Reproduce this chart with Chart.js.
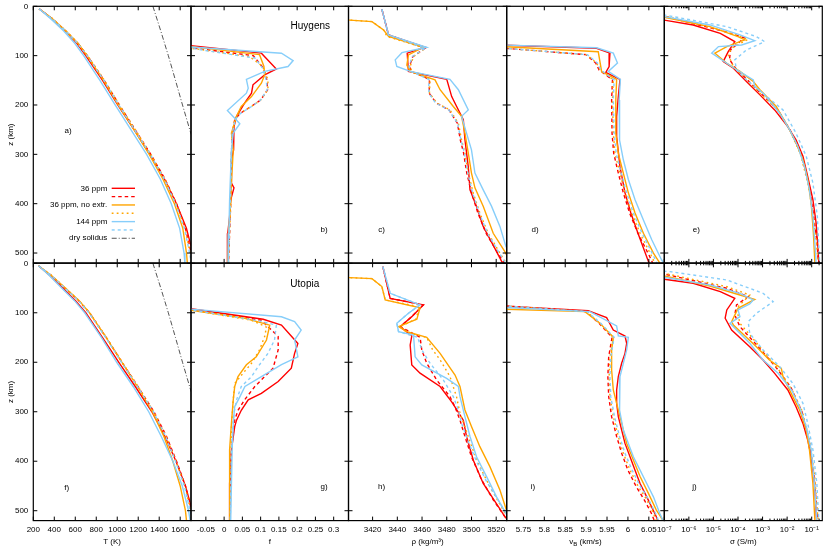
<!DOCTYPE html>
<html>
<head>
<meta charset="utf-8">
<script src="https://cdn.jsdelivr.net/npm/chart.js@4.4.1/dist/chart.umd.min.js"></script>
<style>
html,body{margin:0;padding:0;background:#fff;}
#wrap{position:relative;width:830px;height:554px;overflow:hidden;}
#wrap canvas{position:absolute;left:0;top:0;}
</style>
</head>
<body>
<div id="wrap"></div>
<script>
// ---------------- DATA: [depth z (km), value] ----------------
// Huygens temperature (K)
const hT_36   = [[5,255],[25,375],[50,505],[75,615],[100,700],[150,860],[200,1005],[250,1160],[300,1310],[350,1450],[400,1565],[450,1660],[500,1720],[520,1740]];
const hT_36d  = [[5,255],[25,380],[50,510],[75,625],[100,715],[150,875],[200,1020],[250,1170],[300,1320],[350,1455],[400,1565],[450,1650],[500,1705],[520,1720]];
const hT_36n  = [[5,255],[25,380],[50,510],[75,625],[100,712],[150,870],[200,1010],[250,1160],[300,1305],[350,1435],[400,1545],[450,1625],[500,1660],[520,1668]];
const hT_36nd = [[5,255],[25,382],[50,512],[75,628],[100,718],[150,878],[200,1022],[250,1172],[300,1320],[350,1452],[400,1560],[450,1645],[500,1695],[520,1710]];
const hT_144  = [[5,255],[25,365],[50,490],[75,595],[100,680],[150,835],[200,980],[250,1130],[300,1280],[350,1410],[400,1515],[450,1595],[500,1637],[520,1645]];
const hT_144d = [[5,255],[25,378],[50,508],[75,622],[100,712],[150,872],[200,1015],[250,1165],[300,1315],[350,1448],[400,1555],[450,1640],[500,1690],[520,1705]];
// Utopia temperature (K)
const uT_36   = [[5,250],[25,360],[50,480],[75,600],[100,700],[150,860],[200,1015],[250,1175],[300,1330],[350,1455],[400,1560],[450,1650],[500,1715],[520,1735]];
const uT_36d  = [[5,250],[25,375],[50,500],[75,630],[100,735],[150,895],[200,1045],[250,1200],[300,1350],[350,1470],[400,1565],[450,1650],[500,1710],[520,1730]];
const uT_36n  = [[5,250],[25,375],[50,505],[75,635],[100,735],[150,895],[200,1045],[250,1195],[300,1335],[350,1445],[400,1530],[450,1600],[500,1650],[520,1660]];
const uT_36nd = [[5,250],[25,378],[50,505],[75,635],[100,738],[150,898],[200,1048],[250,1202],[300,1348],[350,1465],[400,1560],[450,1645],[500,1700],[520,1715]];
const uT_144  = [[5,250],[25,355],[50,470],[75,590],[100,690],[150,850],[200,995],[250,1155],[300,1300],[350,1420],[400,1530],[450,1620],[500,1680],[520,1695]];
const uT_144d = [[5,250],[25,375],[50,500],[75,628],[100,730],[150,890],[200,1040],[250,1195],[300,1345],[350,1462],[400,1555],[450,1640],[500,1695],[520,1710]];
// dry solidus (K)
const drySolidus = [[0,1340],[50,1415],[100,1487],[150,1555],[200,1622],[260,1705]];

// Huygens melt fraction f
const hF_36   = [[79,-0.1],[95,0.102],[127,0.143],[139,0.111],[159,0.079],[176,0.075],[196,0.056],[223,0.034],[244,0.027],[271,0.025],[291,0.027],[311,0.020],[358,0.020],[368,0.027],[392,0.018],[426,0.015],[460,0.010],[520,0.009]];
const hF_36d  = [[83,-0.1],[100,0.08],[124,0.106],[149,0.117],[169,0.119],[190,0.10],[203,0.074],[217,0.044],[230,0.029],[260,0.022],[300,0.020],[400,0.018],[520,0.012]];
const hF_36n  = [[81,-0.1],[98,0.097],[122,0.109],[139,0.111],[156,0.102],[183,0.075],[203,0.047],[223,0.034],[257,0.020],[291,0.025],[358,0.020],[400,0.018],[460,0.012],[520,0.010]];
const hF_36nd = [[84,-0.1],[102,0.07],[122,0.106],[149,0.12],[169,0.12],[190,0.10],[203,0.075],[217,0.043],[230,0.029],[260,0.022],[300,0.020],[400,0.018],[520,0.012]];
const hF_144  = [[82,-0.1],[95,0.157],[110,0.189],[122,0.175],[132,0.111],[148,0.061],[166,0.066],[176,0.061],[211,0.009],[227,0.029],[238,0.043],[257,0.025],[291,0.020],[392,0.015],[460,0.013],[520,0.011]];
const hF_144d = [[84,-0.1],[105,0.085],[127,0.107],[149,0.115],[169,0.118],[190,0.10],[203,0.075],[217,0.045],[230,0.030],[260,0.022],[300,0.020],[400,0.017],[520,0.012]];
// Utopia melt fraction f
const uF_36   = [[91,-0.1],[113,0.107],[125,0.157],[162,0.202],[182,0.193],[212,0.184],[239,0.148],[263,0.102],[276,0.066],[297,0.047],[317,0.034],[330,0.029],[377,0.020],[445,0.015],[520,0.015]];
const uF_36d  = [[92,-0.1],[115,0.102],[148,0.148],[175,0.148],[212,0.134],[229,0.111],[249,0.084],[276,0.056],[297,0.038],[317,0.029],[377,0.020],[520,0.016]];
const uF_36n  = [[94,-0.1],[111,0.057],[125,0.125],[155,0.116],[189,0.088],[205,0.061],[229,0.038],[249,0.029],[276,0.025],[323,0.020],[377,0.015],[520,0.015]];
const uF_36nd = [[93,-0.1],[115,0.075],[129,0.116],[148,0.111],[175,0.097],[202,0.075],[222,0.052],[243,0.029],[276,0.025],[330,0.020],[520,0.016]];
const uF_144  = [[92,-0.1],[108,0.157],[118,0.193],[135,0.211],[155,0.193],[189,0.202],[205,0.157],[229,0.102],[249,0.057],[270,0.043],[290,0.029],[323,0.025],[377,0.022],[520,0.018]];
const uF_144d = [[93,-0.1],[116,0.093],[125,0.143],[155,0.138],[182,0.120],[209,0.093],[229,0.075],[249,0.047],[276,0.034],[303,0.027],[377,0.020],[520,0.017]];

// Huygens density (kg/m3)
const hR_36   = [[6,3427.5],[58,3432.9],[71.5,3449],[83,3462.5],[95,3448],[132,3449],[148,3480],[183,3484],[203,3488],[230,3493.4],[270,3494.7],[325,3497.4],[372,3498.8],[405,3504],[446,3509.5],[497,3520.3],[520,3525]];
const hR_36d  = [[6,3427.5],[58,3432.9],[85,3462.5],[102,3452.5],[122,3449.8],[132,3451.2],[148,3466],[176,3465.8],[196,3471.4],[210,3481.8],[237,3488.6],[271,3491],[297,3493.6],[338,3496.2],[379,3500.2],[419,3505.2],[460,3511.8],[500,3521.3],[520,3526.5]];
const hR_36n  = [[27,3390],[28,3401.5],[31,3419.5],[48,3428.9],[61,3432.9],[83,3461.1],[98.5,3449],[119,3447.7],[132,3450.4],[149,3470.5],[169,3474.6],[203,3485.3],[223,3492],[257,3494.7],[297,3497.4],[338,3500],[368,3502.8],[405,3509.5],[460,3517.6],[497,3527],[520,3532]];
const hR_36nd = [[27,3390],[28,3401.5],[31,3419.5],[48,3428.9],[61,3431.6],[85,3462.5],[102,3453.1],[122,3450.4],[132,3451.7],[148,3466.5],[176,3466],[196,3471.9],[210,3482.6],[237,3489.4],[271,3492],[297,3494.7],[338,3497.4],[379,3501.5],[419,3506.8],[460,3513.5],[500,3523],[520,3528]];
const hR_144  = [[6,3427.5],[58,3432.9],[83,3463.8],[94,3443.7],[108.6,3438.3],[122,3439.6],[132,3450.4],[148,3482.6],[169,3489.4],[210,3497.4],[223,3492],[257,3496],[291,3500],[338,3502.8],[372,3509.5],[405,3516.2],[446,3523],[486,3527.8],[520,3535]];
const hR_144d = [[6,3427.5],[58,3432.9],[85,3462.5],[102,3452],[122,3449.5],[132,3451],[148,3465.5],[176,3465.5],[196,3471],[210,3481.6],[237,3488.8],[271,3491.5],[297,3494.3],[338,3497],[379,3501],[419,3506.3],[460,3513],[500,3522.5],[520,3527.5]];
// Utopia density (kg/m3)
const uR_36   = [[6.7,3428.3],[70.8,3434.2],[84,3461.1],[107.8,3451.7],[128,3442.3],[147,3451.7],[165,3450.4],[205.5,3451.7],[222,3458.4],[249,3474.6],[280,3484],[290,3486.6],[317,3493.4],[350,3496],[398,3501.5],[445,3509.5],[512,3527],[520,3529.7]];
const uR_36d  = [[6.7,3428.3],[70.8,3434.2],[84,3461.1],[107.8,3451.7],[128,3442.3],[149.6,3458.4],[175,3459.8],[202,3463.8],[236,3471.9],[269.5,3482.6],[290,3486.6],[316.7,3490.7],[350,3494.7],[391,3500],[437,3508.1],[478,3517.6],[512,3527],[520,3529]];
const uR_36n  = [[28,3390],[29,3401.5],[31,3419.5],[47,3427.5],[74,3430.2],[90,3458.4],[113,3455.8],[128,3441],[138,3447.7],[149.6,3463.8],[182,3474.6],[225.7,3486.7],[249,3490.7],[296.5,3494.7],[330,3500],[370.6,3506.8],[411,3514.9],[458,3523],[495,3527.8],[520,3531]];
const uR_36nd = [[28,3390],[29,3401.5],[31,3419.5],[47,3427.5],[74,3430.2],[88,3458],[113,3455],[128,3442],[140,3448],[149.6,3463.8],[175,3468.6],[195,3474.6],[229,3482.6],[269.5,3487.9],[303,3490.7],[330,3494.7],[370.6,3500.2],[411,3506.8],[451.5,3514.9],[498.7,3525.7],[520,3530]];
const uR_144  = [[6.7,3428.3],[60.6,3434.2],[84,3458.4],[101,3449],[121,3439.6],[138,3441],[145,3453.1],[189,3454.4],[205.5,3459.8],[232.5,3479.9],[249,3489.4],[269.5,3490.7],[310,3494.7],[350,3498.8],[391,3504.1],[431,3512.2],[472,3520.3],[505,3527.8],[520,3531]];
const uR_144d = [[6.7,3428.3],[60.6,3434.2],[84,3458.4],[101,3449],[121,3439.6],[138,3441],[149.6,3456.5],[175,3459.8],[202,3466.5],[236,3477.3],[269.5,3485.3],[296.5,3489.4],[323.5,3492],[360,3497.4],[400,3504],[441,3512.2],[484,3522.9],[505,3527.8],[520,3530.5]];

// Huygens bulk sound velocity vB (km/s)
const hV_36   = [[76,5.6],[85,5.925],[95,5.957],[122,5.955],[134,5.947],[148,5.981],[183,5.977],[223,5.973],[264,5.973],[325,5.981],[378,5.993],[419,6.007],[460,6.024],[517,6.049],[520,6.051]];
const hV_36d  = [[78,5.6],[98,5.9],[115,5.923],[129,5.931],[149,5.963],[190,5.961],[257,5.962],[298,5.966],[338,5.977],[378,5.989],[419,6.004],[460,6.024],[507,6.052],[520,6.059]];
const hV_36n  = [[77,5.6],[92,5.929],[132,5.937],[148,5.973],[190,5.971],[257,5.971],[298,5.977],[338,5.989],[378,6.001],[419,6.017],[460,6.037],[500,6.061],[520,6.076]];
const hV_36nd = [[78,5.6],[98,5.901],[115,5.925],[129,5.933],[149,5.965],[190,5.963],[257,5.965],[298,5.969],[338,5.981],[378,5.993],[419,6.009],[460,6.029],[507,6.057],[520,6.064]];
const hV_144  = [[76,5.6],[84,5.925],[95,5.965],[115,5.975],[132,5.953],[148,5.982],[190,5.979],[223,5.979],[271,5.981],[311,5.989],[351,6.001],[392,6.017],[433,6.037],[473,6.057],[513,6.080],[520,6.085]];
const hV_144d = [[78,5.6],[98,5.903],[115,5.927],[129,5.935],[149,5.967],[190,5.965],[257,5.967],[298,5.972],[338,5.984],[378,5.997],[419,6.013],[460,6.034],[507,6.062],[520,6.069]];
// Utopia vB (km/s)
const uV_36   = [[82,5.6],[95.7,5.905],[109.8,5.949],[134.8,5.965],[147,5.993],[161.7,5.997],[182,5.993],[202,5.985],[229,5.977],[256,5.973],[283,5.973],[310,5.977],[337,5.985],[364,5.993],[391,6.005],[418,6.017],[445,6.029],[472,6.045],[505,6.064],[520,6.072]];
const uV_36d  = [[80,5.6],[97.7,5.9],[121.3,5.931],[149.6,5.962],[188.7,5.954],[229,5.952],[269.5,5.954],[310,5.961],[350,5.973],[384,5.985],[418,6.0],[451.5,6.02],[478,6.039],[505,6.056],[520,6.063]];
const uV_36n  = [[90,5.6],[97.7,5.897],[121.3,5.933],[149.6,5.965],[175,5.961],[215.6,5.961],[256,5.965],[283,5.973],[323.5,5.985],[364,5.997],[397.6,6.013],[431,6.029],[465,6.049],[498.7,6.068],[512,6.078],[520,6.084]];
const uV_36nd = [[80,5.6],[97.7,5.901],[121.3,5.933],[149.6,5.965],[188.7,5.957],[229,5.955],[269.5,5.957],[310,5.965],[350,5.977],[384,5.989],[418,6.005],[451.5,6.025],[478,6.045],[505,6.061],[520,6.068]];
const uV_144  = [[85,5.6],[97.7,5.909],[126.7,5.973],[146.9,5.977],[149.6,6.001],[175,5.997],[202,5.989],[229,5.981],[256,5.979],[296.5,5.981],[337,5.989],[364,6.001],[391,6.013],[418,6.029],[445,6.045],[472,6.061],[505,6.076],[520,6.084]];
const uV_144d = [[80,5.6],[97.7,5.903],[121.3,5.935],[149.6,5.967],[188.7,5.959],[229,5.957],[269.5,5.959],[310,5.968],[350,5.98],[384,5.993],[418,6.01],[451.5,6.03],[478,6.05],[505,6.066],[520,6.073]];

// Huygens conductivity sigma (S/m)
const hS_36   = [[20,3.2e-9],[28,1e-7],[38,1.5e-6],[55,1.9e-5],[71.5,7.4e-5],[91.8,4e-5],[112,2.5e-5],[125.5,6.5e-5],[156,2.6e-4],[179.5,7.8e-4],[210,3.1e-3],[240,9.3e-3],[270.6,2.3e-2],[304,4.4e-2],[345,6.9e-2],[392,0.112],[439,0.151],[486.5,0.178],[520,0.195]];
const hS_36d  = [[14,3.2e-9],[20,1e-7],[51,2.8e-5],[64,1.8e-4],[88,5e-5],[108,4.5e-5],[125,7.9e-5],[150,2.5e-4],[176,8.3e-4],[210,4.2e-3],[250,1.3e-2],[300,3.8e-2],[360,7.6e-2],[420,0.117],[480,0.166],[520,0.186]];
const hS_36n  = [[16,3.2e-9],[22.3,1e-7],[41.2,7.2e-6],[61.4,1e-4],[68,1.9e-4],[71.5,1.2e-4],[81.6,3.5e-5],[95,1.15e-5],[115.4,3.5e-5],[132,1.2e-4],[152.5,4.2e-4],[169,7.8e-4],[203,3.6e-3],[243.6,1.07e-2],[277,2.3e-2],[311,4.4e-2],[351.5,6.9e-2],[398.8,9.5e-2],[459.5,0.117],[520,0.135]];
const hS_36nd = [[14,3.2e-9],[19.6,1e-7],[51.3,3.5e-5],[66.8,2.6e-4],[85,5.5e-5],[98.5,4e-5],[122,6.5e-5],[149,2.2e-4],[176,7.8e-4],[210,4e-3],[250,1.26e-2],[300,3.5e-2],[360,7.1e-2],[420,0.112],[480,0.158],[520,0.178]];
const hS_144  = [[14,3.2e-9],[21,1e-7],[37.8,7.2e-6],[58,1.2e-4],[69.5,4.8e-4],[78.3,1.4e-4],[81.6,1.6e-5],[95,8.5e-6],[122,5.5e-5],[149,4.2e-4],[162.6,4.8e-4],[176,1.05e-3],[216.6,5e-3],[250,1.26e-2],[284,2.75e-2],[324.6,5.1e-2],[372,8.1e-2],[426,0.112],[493,0.141],[520,0.151]];
const hS_144d = [[12,3.2e-9],[17.5,1e-7],[41.2,3.5e-5],[61.4,5.6e-4],[71.5,1.2e-3],[88.4,2.2e-4],[108.6,7.4e-5],[129,8.7e-5],[149,2.2e-4],[210,6.8e-3],[257,2.3e-2],[304,6e-2],[358,0.112],[426,0.17],[520,0.21]];
// Utopia sigma (S/m)
const uS_36   = [[28,3.2e-9],[32.3,1e-7],[40.4,1.5e-6],[57.3,1.9e-5],[70.8,7.4e-5],[94.3,3.5e-5],[111,3.0e-5],[134.8,5.5e-5],[168.5,3.0e-4],[195.4,1.05e-3],[222.4,3.1e-3],[256,1.07e-2],[290,2.3e-2],[323.5,4.4e-2],[357,6.9e-2],[391,9.5e-2],[444.7,0.129],[520,0.158]];
const uS_36d  = [[16,3.2e-9],[21.6,1e-7],[50.5,3.5e-5],[67.4,2.6e-4],[84.2,8.7e-5],[104.4,7.4e-5],[128,1.2e-4],[170,7.1e-4],[210,3.5e-3],[250,1.4e-2],[300,4e-2],[360,7.9e-2],[430,0.126],[520,0.174]];
const uS_36n  = [[20,3.2e-9],[25.6,1e-7],[45.8,7.2e-6],[64,1.2e-4],[72.8,4.8e-4],[91,1e-4],[118,5.5e-5],[124.7,6.5e-5],[168.5,5.6e-4],[195.4,1.9e-3],[212.3,5.8e-3],[229,6.8e-3],[269.5,1.7e-2],[296.5,3.2e-2],[337,6e-2],[377,8.1e-2],[444.7,0.112],[520,0.135]];
const uS_36nd = [[15,3.2e-9],[20.2,1e-7],[47.2,3.5e-5],[64,3.0e-4],[74,1.9e-4],[91,8.7e-5],[121.3,1.2e-4],[175.2,1e-3],[215,4.5e-3],[256,1.6e-2],[300,4.2e-2],[360,8.3e-2],[430,0.132],[520,0.182]];
const uS_144  = [[22,3.2e-9],[28.3,1e-7],[43.8,7.2e-6],[60.6,1.2e-4],[74.1,4.2e-4],[82.2,3.0e-4],[94.3,1e-4],[107.8,1.2e-4],[121.3,4.7e-5],[161.7,3.0e-4],[195.4,1.05e-3],[222.4,4.3e-3],[256,1.5e-2],[290,3.2e-2],[330,6e-2],[377,9.5e-2],[444.7,0.129],[520,0.162]];
const uS_144d = [[12,3.2e-9],[16.8,1.7e-7],[33.7,3.5e-5],[60.6,1.05e-3],[77.5,2.7e-3],[101,5.6e-4],[118,2.6e-4],[141.5,3.0e-4],[175.2,1.05e-3],[209,5e-3],[242.6,1.7e-2],[283,4.4e-2],[323.5,6.9e-2],[377,0.112],[444.7,0.162],[520,0.195]];

// ---------------- TICKS & LABELS ----------------
const Z_TICKS = [0,100,200,300,400,500];
const Z_TICK_LABELS = ['0','100','200','300','400','500'];
const T_TICKS = [200,400,600,800,1000,1200,1400,1600];
const T_TICK_LABELS = ['200','400','600','800','1000','1200','1400','1600'];
const F_TICKS = [-0.05,0,0.05,0.1,0.15,0.2,0.25,0.3];
const F_TICK_LABELS = ['-0.05','0','0.05','0.1','0.15','0.2','0.25','0.3'];
const RHO_TICKS = [3420,3440,3460,3480,3500,3520];
const RHO_TICK_LABELS = ['3420','3440','3460','3480','3500','3520'];
const VB_TICKS = [5.75,5.8,5.85,5.9,5.95,6.0,6.05];
const VB_TICK_LABELS = ['5.75','5.8','5.85','5.9','5.95','6','6.05'];
const SIGMA_TICKS = [1e-7,1e-6,1e-5,1e-4,1e-3,1e-2,1e-1];
const SIGMA_TICK_LABELS = ['10\u207B\u2077','10\u207B\u2076','10\u207B\u2075','10\u207B\u2074','10\u207B\u00B3','10\u207B\u00B2','10\u207B\u00B9'];
const LEGEND_LABELS = ['36 ppm','','36 ppm, no extr.','','144 ppm','','dry solidus'];
const REGION_NAMES = ['Huygens','Utopia'];
const PANEL_LETTERS = [['a)','b)','c)','d)','e)'],['f)','g)','h)','i)','j)']];

// ---------------- LAYOUT / STYLE ----------------
const FONT = '"Liberation Sans", Arial, Helvetica, sans-serif';
Chart.defaults.font.family = FONT;
Chart.defaults.font.size = 8;
Chart.defaults.color = '#000';

const COL_EDGES = [33.3, 191, 348.5, 506.7, 664.3, 822.3];
const ROW_EDGES = [[6.3, 262.9], [263.3, 520.6]];
const X_AXIS_H = 30;
const TICK_LEN = 4;
const LW = 1.4;
const STYLES = [
  {color:'#ff0000', dash:[]},
  {color:'#ff0000', dash:[3.5,3]},
  {color:'#ffa500', dash:[]},
  {color:'#ffa500', dash:[1.8,3.2]},
  {color:'#87cefa', dash:[]},
  {color:'#87cefa', dash:[3,3]},
  {color:'#555555', dash:[5,2,1,2]}
];

const COLUMNS = [
  {type:'linear', min:200, max:1703, ticks:T_TICKS, labels:T_TICK_LABELS, title:'T (K)'},
  {type:'linear', min:-0.0907, max:0.3406, ticks:F_TICKS, labels:F_TICK_LABELS, title:'f'},
  {type:'linear', min:3400.5, max:3528.5, ticks:RHO_TICKS, labels:RHO_TICK_LABELS, title:'\u03C1 (kg/m\u00B3)'},
  {type:'linear', min:5.71, max:6.087, ticks:VB_TICKS, labels:VB_TICK_LABELS, title:null, vb:true},
  {type:'logarithmic', min:1e-7, max:0.27, ticks:SIGMA_TICKS, labels:SIGMA_TICK_LABELS, title:'\u03C3 (S/m)', minor:true}
];

const PANEL_DATA = [
  [[hT_36,hT_36d,hT_36n,hT_36nd,hT_144,hT_144d],[hF_36,hF_36d,hF_36n,hF_36nd,hF_144,hF_144d],[hR_36,hR_36d,hR_36n,hR_36nd,hR_144,hR_144d],[hV_36,hV_36d,hV_36n,hV_36nd,hV_144,hV_144d],[hS_36,hS_36d,hS_36n,hS_36nd,hS_144,hS_144d]],
  [[uT_36,uT_36d,uT_36n,uT_36nd,uT_144,uT_144d],[uF_36,uF_36d,uF_36n,uF_36nd,uF_144,uF_144d],[uR_36,uR_36d,uR_36n,uR_36nd,uR_144,uR_144d],[uV_36,uV_36d,uV_36n,uV_36nd,uV_144,uV_144d],[uS_36,uS_36d,uS_36n,uS_36nd,uS_144,uS_144d]]
];
// letter label anchor (data coordinates)
const LETTER_POS = [
  [[531,253],[0.274,453],[3427.3,453],[5.778,453],[2.0e-6,453]],
  [[519,452.7],[0.274,452],[3427.3,452],[5.773,452],[1.7e-6,452]]
];
const REGION_POS = [[0.236,40],[0.221,41.8]];

function pts(pairs){ return pairs.map(p => ({x:p[1], y:p[0]})); }

const decor = {
  id:'decor',
  afterDraw(chart){
    const o = chart.options.plugins.decor;
    const ctx = chart.ctx, a = chart.chartArea, xs = chart.scales.x, ys = chart.scales.y;
    ctx.save();
    ctx.strokeStyle = '#000';
    ctx.lineWidth = 1;
    ctx.setLineDash([]);
    ctx.beginPath();
    Z_TICKS.forEach(v => {
      const py = ys.getPixelForValue(v);
      ctx.moveTo(a.left, py); ctx.lineTo(a.left + TICK_LEN, py);
      ctx.moveTo(a.right, py); ctx.lineTo(a.right - TICK_LEN, py);
    });
    o.xTicks.forEach(v => {
      const px = xs.getPixelForValue(v);
      ctx.moveTo(px, a.top); ctx.lineTo(px, a.top + TICK_LEN);
      ctx.moveTo(px, a.bottom); ctx.lineTo(px, a.bottom - TICK_LEN);
    });
    if (o.minor) {
      for (let d = 1e-7; d < 1; d *= 10) {
        for (let m = 2; m <= 9; m++) {
          const v = d * m;
          if (v > xs.max) break;
          const px = xs.getPixelForValue(v);
          ctx.moveTo(px, a.top); ctx.lineTo(px, a.top + 2);
          ctx.moveTo(px, a.bottom); ctx.lineTo(px, a.bottom - 2);
        }
      }
    }
    ctx.stroke();
    ctx.lineWidth = 1.2;
    ctx.strokeRect(a.left, a.top, a.right - a.left, a.bottom - a.top);

    ctx.fillStyle = '#000';
    ctx.textAlign = 'center';
    ctx.textBaseline = 'middle';
    ctx.font = '8px ' + FONT;
    ctx.fillText(o.letter, xs.getPixelForValue(o.letterPos[0]), ys.getPixelForValue(o.letterPos[1]));
    if (o.region) {
      ctx.font = '10px ' + FONT;
      ctx.fillText(o.region, xs.getPixelForValue(o.regionPos[0]), ys.getPixelForValue(o.regionPos[1]));
    }
    if (o.vbTitle) {
      ctx.font = '8px ' + FONT;
      const w1 = ctx.measureText('v').width;
      ctx.font = '6px ' + FONT;
      const w2 = ctx.measureText('B').width;
      ctx.font = '8px ' + FONT;
      const w3 = ctx.measureText(' (km/s)').width;
      let x = (a.left + a.right) / 2 - (w1 + w2 + w3) / 2;
      const y = a.bottom + 21.5;
      ctx.textAlign = 'left';
      ctx.fillText('v', x, y); x += w1;
      ctx.font = '6px ' + FONT;
      ctx.fillText('B', x, y + 2.2); x += w2;
      ctx.font = '8px ' + FONT;
      ctx.fillText(' (km/s)', x, y);
    }
    if (o.legend) {
      ctx.font = '8px ' + FONT;
      ctx.textAlign = 'right';
      LEGEND_LABELS.forEach((lab, i) => {
        const y = a.top + 182 + i * 8.33;
        if (lab) ctx.fillText(lab, a.left + 74, y);
        const st = STYLES[i];
        ctx.strokeStyle = st.color;
        ctx.lineWidth = i === 6 ? 1 : LW;
        ctx.setLineDash(st.dash);
        ctx.beginPath();
        ctx.moveTo(a.left + 78.4, y);
        ctx.lineTo(a.left + 101.7, y);
        ctx.stroke();
      });
      ctx.setLineDash([]);
    }
    ctx.restore();
  }
};

const wrap = document.getElementById('wrap');
for (let r = 0; r < 2; r++) {
  for (let c = 0; c < 5; c++) {
    const cv = document.createElement('canvas');
    cv.width = 830; cv.height = 554;
    cv.style.width = '830px'; cv.style.height = '554px';
    wrap.appendChild(cv);
    const col = COLUMNS[c];
    const L = COL_EDGES[c], R = COL_EDGES[c + 1];
    const T = ROW_EDGES[r][0], B = ROW_EDGES[r][1];
    const showY = c === 0, showX = r === 1;
    const yW = showY ? L : 0;
    const xH = showX ? X_AXIS_H : 0;
    const datasets = PANEL_DATA[r][c].map((s, i) => ({
      data: pts(s), borderColor: STYLES[i].color, backgroundColor: STYLES[i].color,
      borderDash: STYLES[i].dash, borderWidth: LW, pointRadius: 0, showLine: true,
      fill: false, tension: 0, order: -i
    }));
    if (c === 0) {
      datasets.push({data: pts(drySolidus), borderColor: STYLES[6].color, borderDash: STYLES[6].dash,
        borderWidth: 1, pointRadius: 0, showLine: true, fill: false, order: 5});
    }
    new Chart(cv, {
      type: 'scatter',
      data: {datasets},
      options: {
        responsive: false, animation: false, events: [],
        layout: {autoPadding: false, padding: {left: L - yW, top: T, right: 830 - R, bottom: 554 - B - xH}},
        plugins: {
          legend: {display: false}, tooltip: {enabled: false},
          decor: {
            xTicks: col.ticks, minor: !!col.minor,
            letter: PANEL_LETTERS[r][c], letterPos: LETTER_POS[r][c],
            region: c === 1 ? REGION_NAMES[r] : null, regionPos: REGION_POS[r],
            vbTitle: !!col.vb && showX, legend: r === 0 && c === 0
          }
        },
        scales: {
          x: {
            type: col.type, min: col.min, max: col.max, display: showX, position: 'bottom',
            grid: {display: false, drawTicks: false}, border: {display: false},
            ticks: {padding: 4, autoSkip: false, maxRotation: 0, minRotation: 0,
              callback: (v, i) => col.labels[i]},
            afterBuildTicks: s => { s.ticks = col.ticks.map(v => ({value: v})); },
            afterFit: s => { s.height = xH; s.paddingLeft = s.paddingRight = s.paddingTop = s.paddingBottom = 0; },
            title: {display: showX && !!col.title, text: col.title || '', padding: {top: 4, bottom: 4}}
          },
          y: {
            type: 'linear', reverse: true, min: 0, max: 520, display: showY, position: 'left',
            grid: {display: false, drawTicks: false}, border: {display: false},
            ticks: {padding: 5, autoSkip: false, callback: (v, i) => Z_TICK_LABELS[i]},
            afterBuildTicks: s => { s.ticks = Z_TICKS.map(v => ({value: v})); },
            afterFit: s => { s.width = yW; s.paddingLeft = s.paddingRight = s.paddingTop = s.paddingBottom = 0; },
            title: {display: showY, text: 'z (km)', padding: {top: 6, bottom: 4}}
          }
        }
      },
      plugins: [decor]
    });
  }
}
</script>
</body>
</html>
